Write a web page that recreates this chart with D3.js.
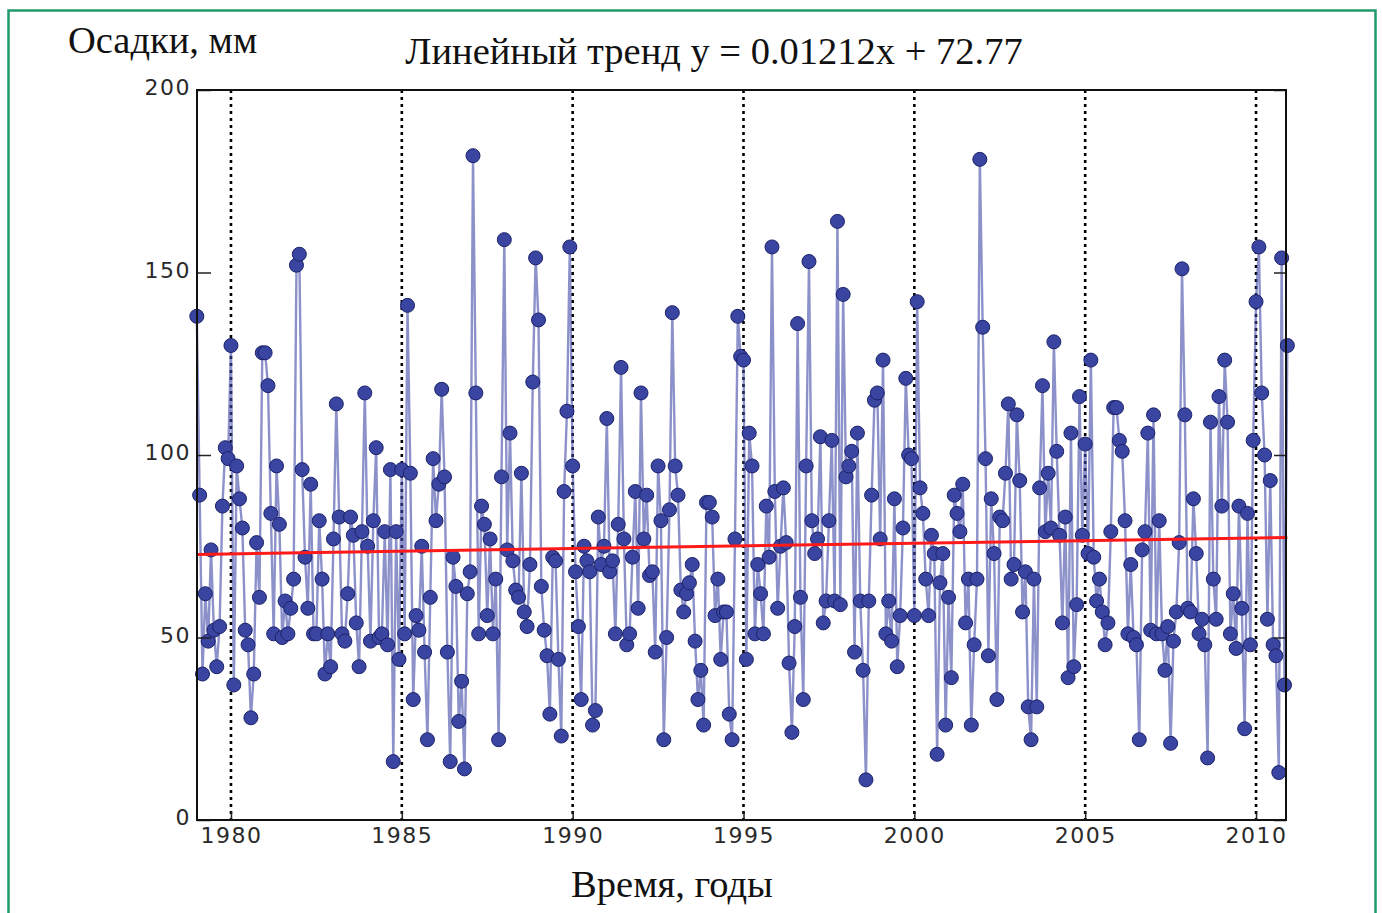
<!DOCTYPE html>
<html>
<head>
<meta charset="utf-8">
<script src="https://cdn.jsdelivr.net/npm/d3@7"></script>
<style>
  html, body { margin: 0; padding: 0; background: #ffffff; }
  svg { display: block; }
</style>
</head>
<body>
<svg id="chart" width="1382" height="913"></svg>
<script>
// Monthly precipitation, mm, January 1979 – December 2010 (one value per month)
const precip1979_1984 = [
  138, 89, 40, 62, 49, 74, 52, 42, 53, 86, 102, 99,
  130, 37, 97, 88, 80, 52, 48, 28, 40, 76, 61, 128,
  128, 119, 84, 51, 97, 81, 50, 60, 51, 58, 66, 152,
  155, 96, 72, 58, 92, 51, 51, 82, 66, 40, 51, 42,
  77, 114, 83, 51, 49, 62, 83, 78, 54, 42, 79, 117,
  75, 49, 82, 102, 50, 51, 79, 48, 96, 16, 79, 44
];
const precip1985_1990 = [
  96, 51, 141, 95, 33, 56, 52, 75, 46, 22, 61, 99,
  82, 92, 118, 94, 46, 16, 72, 64, 27, 38, 14, 62,
  68, 182, 117, 51, 86, 81, 56, 77, 51, 66, 22, 94,
  159, 74, 106, 71, 63, 61, 95, 57, 53, 70, 120, 154,
  137, 64, 52, 45, 29, 72, 71, 44, 23, 90, 112, 157,
  97, 68, 53, 33, 75, 71, 68, 26, 30, 83, 70, 75
];
const precip1991_1996 = [
  110, 68, 71, 51, 81, 124, 77, 48, 51, 72, 90, 58,
  117, 77, 89, 67, 68, 46, 97, 82, 22, 50, 85, 139,
  97, 89, 63, 57, 62, 65, 70, 49, 33, 41, 26, 87,
  87, 83, 56, 66, 44, 57, 57, 29, 22, 77, 138, 127,
  126, 44, 106, 97, 51, 70, 62, 51, 86, 72, 157, 90,
  58, 75, 91, 76, 43, 24, 53, 136, 61, 33, 97, 153
];
const precip1997_2002 = [
  82, 73, 77, 105, 54, 60, 82, 104, 60, 164, 59, 144,
  94, 97, 101, 46, 106, 60, 41, 11, 60, 89, 115, 117,
  77, 126, 51, 60, 49, 88, 42, 56, 80, 121, 100, 99,
  56, 142, 91, 84, 66, 56, 78, 73, 18, 65, 73, 26,
  61, 39, 89, 84, 79, 92, 54, 66, 26, 48, 66, 181,
  135, 99, 45, 88, 73, 33, 83, 82, 95, 114, 66, 70
];
const precip2003_2010 = [
  111, 93, 57, 68, 31, 22, 66, 31, 91, 119, 79, 95,
  80, 131, 101, 78, 54, 83, 39, 106, 42, 59, 116, 78,
  103, 73, 126, 72, 60, 66, 57, 48, 54, 79, 113, 113,
  104, 101, 82, 51, 70, 50, 48, 22, 74, 79, 106, 52,
  111, 51, 82, 51, 41, 53, 21, 49, 57, 76, 151, 111,
  58, 57, 88, 73, 51, 55, 48, 17, 109, 66, 55, 116,
  86, 126, 109, 51, 62, 47, 86, 58, 25, 84, 48, 104,
  142, 157, 117, 100, 55, 93, 48, 45, 13, 154, 37, 130
];
const precipitation = [].concat(precip1979_1984, precip1985_1990, precip1991_1996,
                                precip1997_2002, precip2003_2010);
const startYear = 1979;

// Linear trend over the month index: y = slope * x + intercept
const trendSlope = 0.01212;
const trendIntercept = 72.77;

const yearTicks = [1980, 1985, 1990, 1995, 2000, 2005, 2010];
const valueTicks = [0, 50, 100, 150, 200];

const titleText = "Линейный тренд y = 0.01212x + 72.77";
const yLabelText = "Осадки, мм";
const xLabelText = "Время, годы";

const svg = d3.select("#chart");

// page frame
svg.append("rect")
  .attr("x", 8.5).attr("y", 10.5)
  .attr("width", 1367).attr("height", 930)
  .attr("fill", "none")
  .attr("stroke", "#1f9a6a")
  .attr("stroke-width", 2.5);

const plot = { left: 197, right: 1286, top: 90, bottom: 820 };

const x = d3.scaleLinear().domain([1979, 2011]).range([196.8, 1290.2]);
const y = d3.scaleLinear().domain([0, 200]).range([plot.bottom, plot.top]);

const points = precipitation.map((v, i) => ({ t: startYear + i / 12, i, v }));

// dotted year grid lines
svg.append("g").selectAll("line")
  .data(yearTicks)
  .join("line")
  .attr("x1", d => x(d)).attr("x2", d => x(d))
  .attr("y1", plot.top).attr("y2", plot.bottom)
  .attr("stroke", "#000")
  .attr("stroke-width", 2.6)
  .attr("stroke-dasharray", "3,4");

// connecting line
const line = d3.line().x(d => x(d.t)).y(d => y(d.v));
svg.append("path")
  .datum(points)
  .attr("d", line)
  .attr("fill", "none")
  .attr("stroke", "#3f48a6")
  .attr("stroke-opacity", 0.6)
  .attr("stroke-width", 2.4)
  .attr("stroke-linejoin", "round");

// monthly markers
svg.append("g").selectAll("circle")
  .data(points)
  .join("circle")
  .attr("cx", d => x(d.t))
  .attr("cy", d => y(d.v))
  .attr("r", 7)
  .attr("fill", "#3a45a2")
  .attr("stroke", "#1b2268")
  .attr("stroke-width", 1);

// trend line
const nLast = precipitation.length - 1;
const trendPts = [0, nLast].map(i => ({ t: startYear + i / 12, v: trendSlope * i + trendIntercept }));
svg.append("path")
  .datum(trendPts)
  .attr("d", line)
  .attr("fill", "none")
  .attr("stroke", "#ff1a1a")
  .attr("stroke-width", 3);

// axes with inward ticks
const yAxisL = d3.axisLeft(y).tickValues(valueTicks).tickSize(-14).tickPadding(6).tickFormat(d3.format("d"));
const yAxisR = d3.axisRight(y).tickValues(valueTicks).tickSize(-12).tickFormat("");
const xAxisB = d3.axisBottom(x).tickValues(yearTicks).tickSize(-8).tickPadding(12).tickFormat(d3.format("d"));

const axisStyle = g => {
  g.select(".domain").remove();
  g.selectAll(".tick line").attr("stroke", "#222").attr("stroke-width", 1.5);
  g.selectAll(".tick text")
    .attr("fill", "#2a2a2a")
    .style("font-family", "'DejaVu Sans', sans-serif")
    .style("font-size", "22px")
    .style("letter-spacing", "1.5px");
};

svg.append("g").attr("transform", `translate(${plot.left},0)`).call(yAxisL).call(axisStyle)
  .selectAll(".tick text").attr("dy", "0.22em");
svg.append("g").attr("transform", `translate(${plot.right},0)`).call(yAxisR).call(axisStyle);
svg.append("g").attr("transform", `translate(0,${plot.bottom})`).call(xAxisB).call(axisStyle)
  .selectAll(".tick text").attr("dy", "0.5em");

// plot frame
svg.append("rect")
  .attr("x", plot.left).attr("y", plot.top)
  .attr("width", plot.right - plot.left).attr("height", plot.bottom - plot.top)
  .attr("fill", "none")
  .attr("stroke", "#111")
  .attr("stroke-width", 2);

// texts
const serif = "'Liberation Serif', 'Times New Roman', serif";
svg.append("text")
  .attr("x", 714).attr("y", 64)
  .attr("text-anchor", "middle")
  .style("font-family", serif).style("font-size", "38.5px")
  .attr("fill", "#111")
  .text(titleText);

svg.append("text")
  .attr("x", 68).attr("y", 53)
  .style("font-family", serif).style("font-size", "38.5px")
  .attr("fill", "#111")
  .text(yLabelText);

svg.append("text")
  .attr("x", 672).attr("y", 897)
  .attr("text-anchor", "middle")
  .style("font-family", serif).style("font-size", "38.5px")
  .attr("fill", "#111")
  .text(xLabelText);
</script>
</body>
</html>
